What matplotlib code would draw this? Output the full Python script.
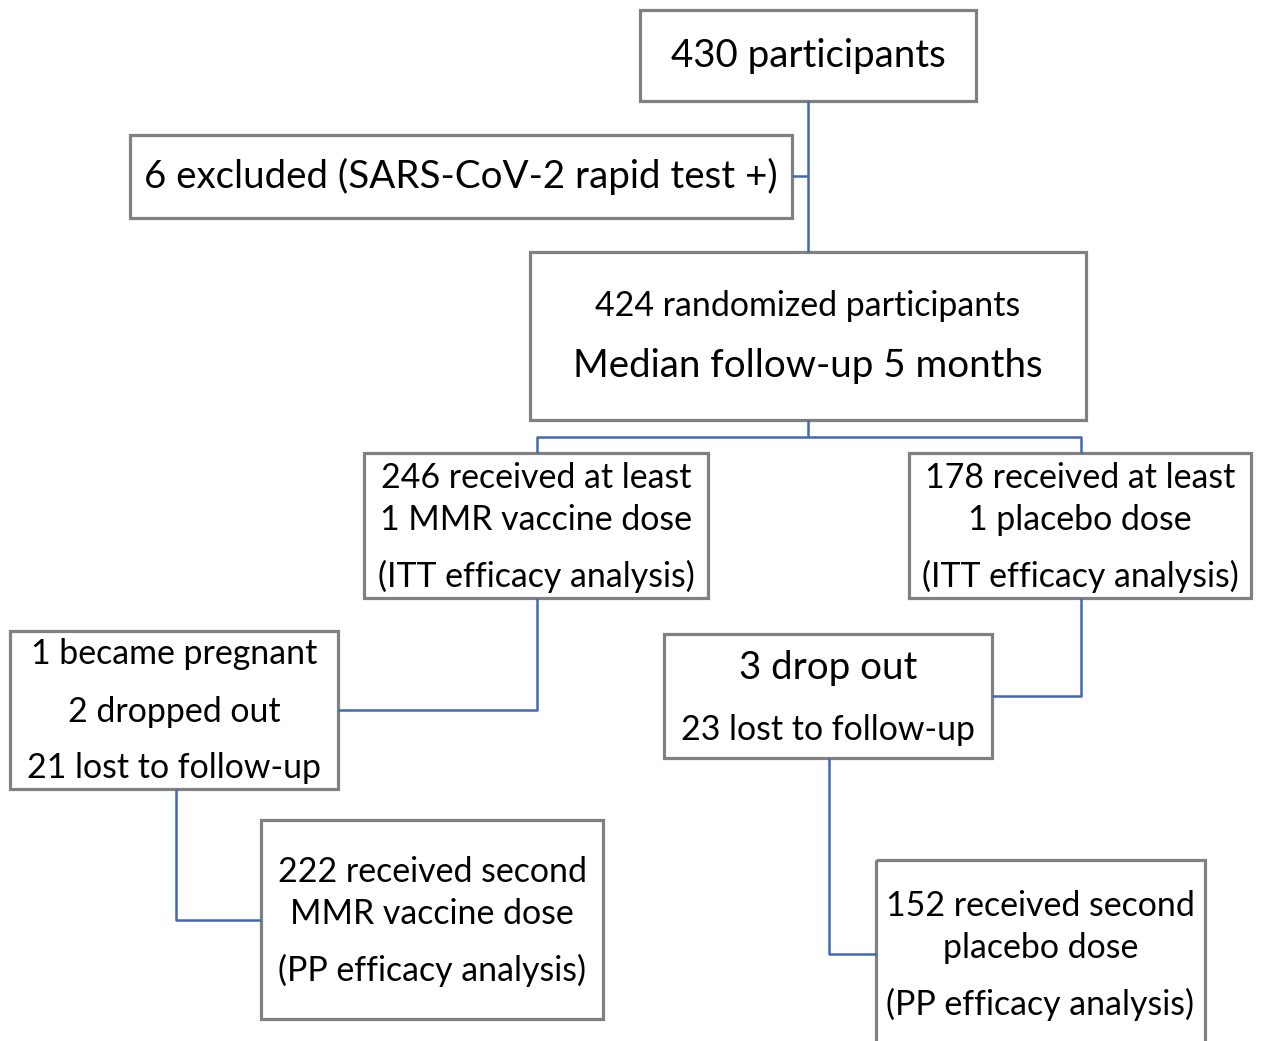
import matplotlib
matplotlib.use("Agg")
import matplotlib.pyplot as plt
import matplotlib.patches as patches

# box texts (each entry: (line, size-class))
enrolled = [("430 participants", "big")]
excluded = [("6 excluded (SARS-CoV-2 rapid test +)", "big")]
randomized = [("424 randomized participants", "small"),
              ("Median follow-up 5 months", "big")]
mmr_itt = [("246 received at least", "small"), ("1 MMR vaccine dose", "small"),
           ("(ITT efficacy analysis)", "small")]
placebo_itt = [("178 received at least", "small"), ("1 placebo dose", "small"),
               ("(ITT efficacy analysis)", "small")]
mmr_lost = [("1 became pregnant", "small"), ("2 dropped out", "small"),
            ("21 lost to follow-up", "small")]
placebo_lost = [("3 drop out", "big"), ("23 lost to follow-up", "small")]
mmr_pp = [("222 received second", "small"), ("MMR vaccine dose", "small"),
          ("(PP efficacy analysis)", "small")]
placebo_pp = [("152 received second", "small"), ("placebo dose", "small"),
              ("(PP efficacy analysis)", "small")]

W, H = 1262, 1041
fig = plt.figure(figsize=(W / 100, H / 100), dpi=100)
ax = fig.add_axes([0, 0, 1, 1])
ax.set_xlim(0, W)
ax.set_ylim(H, 0)
ax.axis("off")

sizes = {"big": 27.7, "small": 24.4}
box_color = "#808080"
line_color = "#4169b0"


def box(x0, y0, x1, y1, lines, ys):
    ax.add_patch(patches.Rectangle((x0, y0), x1 - x0, y1 - y0, fill=False,
                                   edgecolor=box_color, linewidth=2.3))
    cx = (x0 + x1) / 2
    for (txt, kind), y in zip(lines, ys):
        ax.text(cx, y + 1.5, txt, ha="center", va="center", fontsize=sizes[kind],
                family="Lato", color="black")


def path(xs, ys):
    ax.plot(xs, ys, color=line_color, linewidth=1.8, solid_capstyle="butt")


# connectors
path([808, 808], [101, 252])
path([792, 808], [176, 176])
path([808, 808], [420, 437])
path([537, 537, 1081, 1081], [453, 437, 437, 453])
path([537, 537, 338], [598, 710, 710])
path([1081, 1081, 992], [598, 696, 696])
path([176, 176, 261], [789, 920, 920])
path([829, 829, 876], [758, 954, 954])

box(640, 10, 976, 101, enrolled, [55])
box(130, 135, 792, 218, excluded, [175])
box(530, 252, 1086, 420, randomized, [305, 365])
box(364, 453, 708, 598, mmr_itt, [477, 518, 575])
box(909, 453, 1251, 598, placebo_itt, [477, 518, 575])
box(10, 631, 338, 789, mmr_lost, [653, 710, 767])
box(664, 634, 992, 758, placebo_lost, [666, 729])
box(261, 820, 603, 1019, mmr_pp, [871, 912, 969])
box(876, 860, 1205, 1060, placebo_pp, [905, 946, 1003])

fig.savefig("out.png", dpi=100)
